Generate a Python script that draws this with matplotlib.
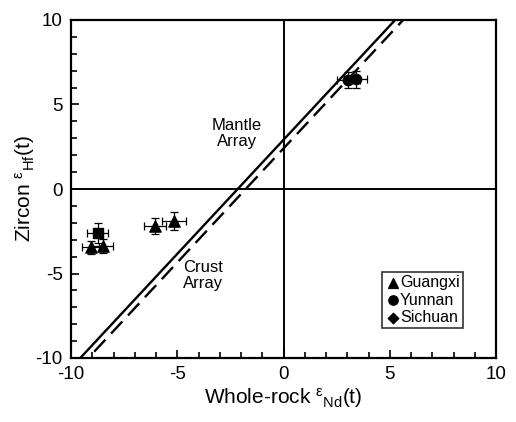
import numpy as np
import matplotlib
matplotlib.use("Agg")
import matplotlib.pyplot as plt
from matplotlib.ticker import MultipleLocator

plt.rcParams['font.family'] = ['Liberation Sans', 'DejaVu Sans']
plt.rcParams['mathtext.fontset'] = 'custom'
plt.rcParams['mathtext.rm'] = 'Liberation Sans'
plt.rcParams['mathtext.it'] = 'Liberation Sans'
plt.rcParams['axes.unicode_minus'] = False

# Guangxi (triangles)
gx_nd = [-9.07, -8.51, -6.05, -5.15]
gx_hf = [-3.45, -3.37, -2.19, -1.88]
gx_nd_err = [0.40, 0.50, 0.53, 0.55]
gx_hf_err = [0.37, 0.40, 0.50, 0.53]

# square point
sq_nd = [-8.74]
sq_hf = [-2.59]
sq_nd_err = [0.50]
sq_hf_err = [0.58]

# Yunnan (circles)
yn_nd = [3.05, 3.40]
yn_hf = [6.45, 6.48]
yn_nd_err = [0.55, 0.55]
yn_hf_err = [0.50, 0.50]

# reference arrays: eHf = slope * eNd + intercept
crust_slope, crust_icpt = 1.35, 2.91
mantle_slope, mantle_icpt = 1.35, 2.40

fig = plt.figure(figsize=(5.16, 4.22), dpi=100)
ax = fig.add_axes([71/516, 1 - 358/422, 425/516, 338/422])

xs = np.array([-10.5, 10.5])
ax.plot(xs, crust_slope * xs + crust_icpt, color='black', lw=1.7, zorder=2)
ax.plot(xs, mantle_slope * xs + mantle_icpt, color='black', lw=1.7,
        dashes=(7, 3.5), zorder=2)

ax.axhline(0, color='black', lw=1.4, zorder=1)
ax.axvline(0, color='black', lw=1.4, zorder=1)

eb = dict(fmt='none', ecolor='black', elinewidth=0.9, capsize=3, capthick=0.9, zorder=3)
ax.errorbar(gx_nd, gx_hf, xerr=gx_nd_err, yerr=gx_hf_err, **eb)
ax.errorbar(sq_nd, sq_hf, xerr=sq_nd_err, yerr=sq_hf_err, **eb)
ax.errorbar(yn_nd, yn_hf, xerr=yn_nd_err, yerr=yn_hf_err, **eb)

ax.scatter(sq_nd, sq_hf, marker='s', s=48, color='black', zorder=4)
ax.scatter(gx_nd, gx_hf, marker='^', s=65, color='black', zorder=4)
ax.scatter(yn_nd, yn_hf, marker='o', s=55, color='black', zorder=4)

# legend handles
h1 = ax.scatter([], [], marker='^', s=50, color='black', label='Guangxi')
h2 = ax.scatter([], [], marker='o', s=45, color='black', label='Yunnan')
h3 = ax.scatter([], [], marker='D', s=28, color='black', label='Sichuan')
leg = ax.legend(handles=[h1, h2, h3], loc='lower right',
                bbox_to_anchor=(0.922, 0.088), fontsize=11.5,
                frameon=True, fancybox=False, handletextpad=0.0,
                handlelength=0.9, borderpad=0.2, labelspacing=0.15,
                borderaxespad=0)
leg.get_frame().set_edgecolor('black')
leg.get_frame().set_linewidth(1.2)

ax.text(-2.2, 3.3, 'Mantle\nArray', ha='center', va='center', fontsize=12,
        linespacing=1.1)
ax.text(-3.8, -5.1, 'Crust\nArray', ha='center', va='center', fontsize=12,
        linespacing=1.1)

ax.set_xlim(-10, 10)
ax.set_ylim(-10, 10)
ax.xaxis.set_major_locator(MultipleLocator(5))
ax.yaxis.set_major_locator(MultipleLocator(5))
ax.xaxis.set_minor_locator(MultipleLocator(1))
ax.yaxis.set_minor_locator(MultipleLocator(1))
ax.tick_params(which='both', direction='in', top=False, right=False,
               width=1.2, labelsize=13.5)
ax.tick_params(which='major', length=6, pad=6)
ax.tick_params(which='minor', length=4)

for s in ax.spines.values():
    s.set_linewidth(1.6)

ax.set_xlabel(r'Whole-rock $^{\epsilon}{}_{\mathrm{Nd}}$(t)', fontsize=15, labelpad=2)
ax.set_ylabel(r'Zircon $^{\epsilon}{}_{\mathrm{Hf}}$(t)', fontsize=15, labelpad=-1)

fig.savefig('out.png', dpi=100)
